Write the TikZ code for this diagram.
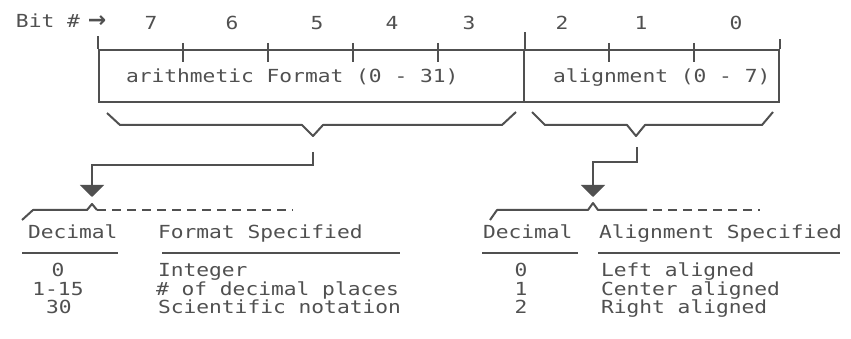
\documentclass[tikz,border=0pt]{standalone}
\usepackage{fontspec}
\usetikzlibrary{arrows.meta}
\newfontfamily\pix[FakeStretch=1.18]{DejaVu Sans Mono}
\newfontfamily\arr{DejaVu Sans}
\definecolor{ink}{HTML}{505050}
\begin{document}
\begin{tikzpicture}[x=1pt,y=-1pt,line width=2pt,
  txt/.style={font=\pix\fontsize{18}{20}\selectfont,text=ink,inner sep=0pt,text height=13pt,text depth=3pt},
  field/.style={draw=ink,line width=2pt,inner sep=0pt},
  ln/.style={draw=ink,line width=2pt},
  dln/.style={draw=ink,line width=2pt,dash pattern=on 9pt off 6pt},
  conn/.style={draw=ink,line width=2pt,-{Triangle[width=24pt,length=12pt]},shorten >=0pt}]
\useasboundingbox (0,0) rectangle (851,339);
% register box
\node[field,minimum width=425pt,minimum height=52pt] (fmt) at (311.5,76) {};
\node[field,minimum width=255pt,minimum height=52pt] (aln) at (651.5,76) {};
\draw[ln] (fmt.north west) -- ++(0,-13);
\draw[ln] (fmt.north east) -- ++(0,-17);
\draw[ln] (aln.north east) -- ++(0,-10);
\foreach \x in {183,268,353,438,609,694} \draw[ln] (\x,43) -- (\x,62);
% labels
\node[txt,anchor=base west] (bit) at (15,28) {Bit \#\hspace{8pt}{\arr\bfseries\fontsize{22}{22}\selectfont →}};
\foreach \n/\x in {7/151,6/232,5/317,4/392,3/469,2/562,1/641,0/736}
  \node[txt,anchor=base] (b\n) at (\x,30) {\n};
\node[txt,anchor=base west] (fmtlbl) at (125,83) {arithmetic Format (0 - 31)};
\node[txt,anchor=base west] (alnlbl) at (552,83) {alignment (0 - 7)};
% braces
\coordinate (tipA) at (313,136);
\coordinate (tipB) at (636,136);
\draw[ln,line join=round] (107,113) -- (120,125) -- (302,125) -- (tipA) -- (323,125) -- (502,125) -- (516,112);
\draw[ln,line join=round] (532,112) -- (545,125) -- (627,125) -- (tipB) -- (645,125) -- (762,125) -- (773,112);
% connectors
\coordinate (srcA) at (313,152);
\coordinate (dstA) at (92,197);
\coordinate (srcB) at (637,147);
\coordinate (dstB) at (593,197);
\draw[conn] (srcA) -- (313,165) -| (dstA);
\draw[conn] (srcB) -- (637,162) -| (dstB);
% lower brackets
\draw[ln,line join=round] (22,220) -- (33,210) -- (87,210) -- (92,204) -- (97,210);
\draw[dln] (97,210) -- (293,210);
\draw[ln,line join=round] (490,220) -- (497,210) -- (588,210) -- (593,203) -- (598,210) -- (647,210);
\draw[dln] (653,210) -- (760,210);
% left table
\node[txt,anchor=base west] (ldec) at (27,238) {Decimal};
\node[txt,anchor=base west] (lfmt) at (157,238) {Format Specified};
\draw[ln] (22,253) -- (118,253);
\draw[ln] (162,253) -- (400,253);
\node[txt,anchor=base] (l0) at (58,276.5) {0};
\node[txt,anchor=base] (l1) at (58,295) {1-15};
\node[txt,anchor=base] (l2) at (59,313.5) {30};
\node[txt,anchor=base west] (lt0) at (157,276.5) {Integer};
\node[txt,anchor=base west] (lt1) at (155,295) {\# of decimal places};
\node[txt,anchor=base west] (lt2) at (157,313.5) {Scientific notation};
% right table
\node[txt,anchor=base west] (rdec) at (482,238) {Decimal};
\node[txt,anchor=base west] (raln) at (598,238) {Alignment Specified};
\draw[ln] (482,253) -- (578,253);
\draw[ln] (598,253) -- (840,253);
\node[txt,anchor=base] (r0) at (521,276.5) {0};
\node[txt,anchor=base] (r1) at (521,295) {1};
\node[txt,anchor=base] (r2) at (521,313.5) {2};
\node[txt,anchor=base west] (rt0) at (600,276.5) {Left aligned};
\node[txt,anchor=base west] (rt1) at (600,295) {Center aligned};
\node[txt,anchor=base west] (rt2) at (600,313.5) {Right aligned};
\end{tikzpicture}
\end{document}
